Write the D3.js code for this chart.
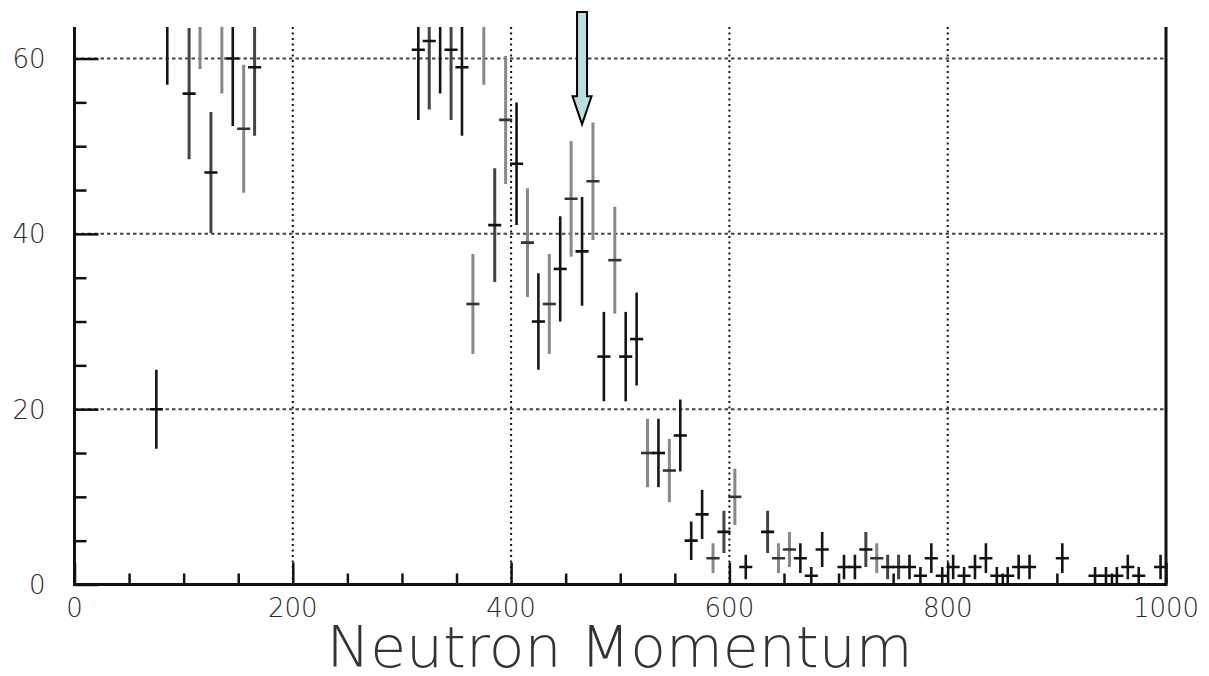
<!DOCTYPE html>
<html>
<head>
<meta charset="utf-8">
<script src="https://cdn.jsdelivr.net/npm/d3@7"></script>
<style>
    body { margin: 0; background: #fff; }
    .tick-label { font-family: "DejaVu Sans", sans-serif; font-size: 26px; font-weight: 200; fill: #2a2a2a; }
    .axis-title { font-family: "DejaVu Sans", sans-serif; font-size: 57px; font-weight: 200; fill: #333; }
</style>
</head>
<body>
<div id="wrapper"></div>
<script>
// bin centres (MeV/c), counts, errors and shade of each point
const momentum = [75, 85, 105, 115, 125, 135, 145, 155, 165,
    315, 325, 335, 345, 355, 365, 375, 385, 395, 405, 415, 425, 435, 445, 455, 465, 475, 485, 495, 505, 515,
    525, 535, 545, 555, 565, 575, 585, 595, 605, 615, 635, 645, 655, 665, 675, 685,
    705, 715, 725, 735, 745, 755, 765, 775, 785, 795, 805, 815, 825, 835, 845, 855, 865, 875,
    905, 935, 945, 955, 965, 975, 995]
const counts = [20, 65, 56, 67, 47, 64, 60, 52, 59,
    61, 62, 64, 61, 59, 32, 65, 41, 53, 48, 39, 30, 32, 36, 44, 38, 46, 26, 37, 26, 28,
    15, 15, 13, 17, 5, 8, 3, 6, 10, 2, 6, 3, 4, 3, 1, 4,
    2, 2, 4, 3, 2, 2, 2, 1, 3, 1, 2, 1, 2, 3, 1, 1, 2, 2,
    3, 1, 1, 1, 2, 1, 2]
const errors = [4.5, 8, 7.5, 8.2, 6.9, 8, 7.7, 7.3, 7.8,
    8, 7.8, 8, 8, 7.8, 5.7, 8, 6.5, 7.3, 7, 6.2, 5.5, 5.7, 6, 6.6, 6.2, 6.7, 5.1, 6.1, 5.1, 5.3,
    3.9, 3.9, 3.6, 4.1, 2.2, 2.8, 1.7, 2.4, 3.2, 1.4, 2.4, 1.7, 2, 1.7, 1, 2,
    1.4, 1.4, 2, 1.7, 1.4, 1.4, 1.4, 1, 1.7, 1, 1.4, 1, 1.4, 1.7, 1, 1, 1.4, 1.4,
    1.7, 1, 1, 1, 1.4, 1, 1.4]
const shades = ['k', 'k', 'd', 'g', 'd', 'g', 'k', 'g', 'd',
    'k', 'd', 'k', 'd', 'k', 'g', 'g', 'd', 'g', 'k', 'g', 'k', 'g', 'k', 'g', 'k', 'g', 'k', 'g', 'k', 'k',
    'g', 'k', 'g', 'k', 'k', 'k', 'g', 'd', 'g', 'k', 'd', 'g', 'g', 'k', 'k', 'k',
    'k', 'k', 'd', 'g', 'd', 'd', 'k', 'k', 'k', 'k', 'k', 'k', 'k', 'k', 'k', 'k', 'k', 'k',
    'k', 'k', 'k', 'k', 'k', 'k', 'k']

const xMajorTicks = [0, 200, 400, 600, 800, 1000]
const yMajorTicks = [0, 20, 40, 60]
const xTitle = "Neutron Momentum"
const arrowAt = 465

const dimensions = {
    width: 1209,
    height: 676,
    margin: { top: 27, right: 43, bottom: 91.5, left: 74.5 }
}
dimensions.boundedWidth = dimensions.width - dimensions.margin.left - dimensions.margin.right
dimensions.boundedHeight = dimensions.height - dimensions.margin.top - dimensions.margin.bottom

const shadeColor = { k: '#151515', d: '#444', g: '#888' }
const shadeWidth = { k: 2.6, d: 3, g: 3 }

const points = momentum.map((m, i) => ({ m, c: counts[i], e: errors[i], s: shades[i] }))

const svg = d3.select('#wrapper')
    .append('svg')
    .attr('width', dimensions.width)
    .attr('height', dimensions.height)

const bounds = svg.append('g')
    .attr('transform', `translate(${dimensions.margin.left}, ${dimensions.margin.top})`)

const xScale = d3.scaleLinear()
    .domain([0, 1000])
    .range([0, dimensions.boundedWidth])

const yScale = d3.scaleLinear()
    .domain([0, 63.6])
    .range([dimensions.boundedHeight, 0])

svg.append('defs').append('clipPath')
    .attr('id', 'plot-clip')
    .append('rect')
    .attr('width', dimensions.boundedWidth)
    .attr('height', dimensions.boundedHeight)

// dotted grid
bounds.selectAll('.hgrid')
    .data(yMajorTicks.filter(d => d > 0))
    .join('line')
    .attr('x1', 0)
    .attr('x2', dimensions.boundedWidth)
    .attr('y1', d => yScale(d))
    .attr('y2', d => yScale(d))
    .attr('stroke', '#444')
    .attr('stroke-width', 2)
    .attr('stroke-dasharray', '3.5,3')

bounds.selectAll('.vgrid')
    .data(xMajorTicks.filter(d => d > 0 && d < 1000))
    .join('line')
    .attr('x1', d => xScale(d))
    .attr('x2', d => xScale(d))
    .attr('y1', 0)
    .attr('y2', dimensions.boundedHeight)
    .attr('stroke', '#111')
    .attr('stroke-width', 2)
    .attr('stroke-dasharray', '2,3.5')

// error bars
const marks = bounds.append('g').attr('clip-path', 'url(#plot-clip)')

marks.selectAll('.err')
    .data(points)
    .join('line')
    .attr('x1', d => xScale(d.m))
    .attr('x2', d => xScale(d.m))
    .attr('y1', d => yScale(d.c + d.e))
    .attr('y2', d => yScale(Math.max(0, d.c - d.e)))
    .attr('stroke', d => shadeColor[d.s])
    .attr('stroke-width', d => shadeWidth[d.s])

marks.selectAll('.bin')
    .data(points)
    .join('line')
    .attr('x1', d => xScale(d.m - 6))
    .attr('x2', d => xScale(d.m + 6))
    .attr('y1', d => yScale(d.c))
    .attr('y2', d => yScale(d.c))
    .attr('stroke', d => d.s === 'g' ? '#333' : '#111')
    .attr('stroke-width', 2.6)

// axes with inward ticks
const xAxis = d3.axisBottom(xScale)
    .tickValues(d3.range(0, 1001, 50))
    .tickSize(0)
    .tickFormat('')
const yAxis = d3.axisLeft(yScale)
    .tickValues(d3.range(0, 61, 5))
    .tickSize(0)
    .tickFormat('')

const xAxisGroup = bounds.append('g')
    .attr('transform', `translate(0, ${dimensions.boundedHeight})`)
    .call(xAxis)
xAxisGroup.select('.domain').remove()
xAxisGroup.selectAll('.tick line')
    .attr('y2', d => d % 200 === 0 ? -22 : -11)
    .attr('stroke', '#111')
    .attr('stroke-width', 2.5)

const yAxisGroup = bounds.append('g').call(yAxis)
yAxisGroup.select('.domain').remove()
yAxisGroup.selectAll('.tick line')
    .attr('x2', d => d % 20 === 0 ? 24 : 12)
    .attr('stroke', '#111')
    .attr('stroke-width', 2.5)

// frame: left, bottom, right
bounds.append('path')
    .attr('d', `M0,0V${dimensions.boundedHeight}H${dimensions.boundedWidth}V0`)
    .attr('fill', 'none')
    .attr('stroke', '#111')
    .attr('stroke-width', 3)

// tick labels
bounds.selectAll('.ylab')
    .data(yMajorTicks)
    .join('text')
    .attr('class', 'tick-label')
    .attr('x', -29)
    .attr('y', d => yScale(d))
    .attr('dy', '0.36em')
    .attr('text-anchor', 'end')
    .text(d => d)

bounds.selectAll('.xlab')
    .data(xMajorTicks)
    .join('text')
    .attr('class', 'tick-label')
    .attr('x', d => xScale(d))
    .attr('y', dimensions.boundedHeight + 32)
    .attr('text-anchor', 'middle')
    .text(d => d)

bounds.append('text')
    .attr('class', 'axis-title')
    .attr('x', 545)
    .attr('y', dimensions.boundedHeight + 82)
    .attr('text-anchor', 'middle')
    .attr('textLength', 586)
    .attr('lengthAdjust', 'spacingAndGlyphs')
    .text(xTitle)

// arrow marker
const ax = xScale(arrowAt)
const tipY = yScale(52.5)
const topY = -15
const headY = tipY - 28
bounds.append('path')
    .attr('d', `M${ax - 5},${topY}H${ax + 5}V${headY}H${ax + 9.5}L${ax},${tipY}L${ax - 9.5},${headY}H${ax - 5}Z`)
    .attr('fill', '#b9dfe3')
    .attr('stroke', '#000')
    .attr('stroke-width', 2)
    .attr('stroke-linejoin', 'miter')
</script>
</body>
</html>
